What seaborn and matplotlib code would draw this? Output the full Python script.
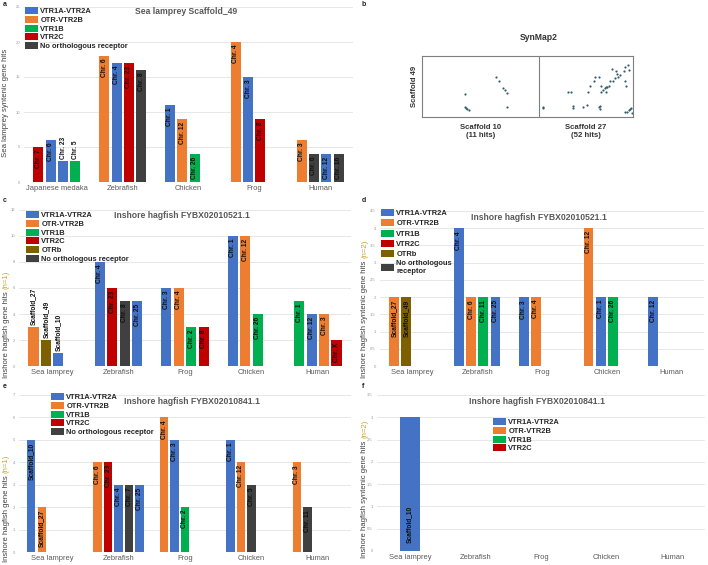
import numpy as np
import pandas as pd
import matplotlib
matplotlib.use('Agg')
import matplotlib.pyplot as plt
import matplotlib.patches as mpatches
import seaborn as sns

# Receptores y colores
A = 'VTR1A-VTR2A'
B = 'OTR-VTR2B'
B1 = 'VTR1B'
C2 = 'VTR2C'
OB = 'OTRb'
N = 'No orthologous receptor'
receptor_colors = {A: '#4472C4', B: '#ED7D31', B1: '#00B050', C2: '#C00000',
                   OB: '#7F6000', N: '#404040'}

# Panel a: Sea lamprey Scaffold_49
a_species = ['Japanese medaka', 'Zebrafish', 'Chicken', 'Frog', 'Human']
a_hits = [[5, 6, 3, 3], [18, 17, 17, 16], [11, 9, 4], [20, 15, 9], [6, 4, 4, 4]]
a_receptor = [[C2, A, A, B1], [B, A, C2, N], [A, B, B1], [B, A, C2], [B, N, A, N]]
a_chrom = [['Chr. 7', 'Chr. 6', 'Chr. 23', 'Chr. 5'],
           ['Chr. 6', 'Chr. 4', 'Chr. 23', 'Chr. 8'],
           ['Chr. 1', 'Chr. 12', 'Chr. 26'],
           ['Chr. 4', 'Chr. 3', 'Chr. 8'],
           ['Chr. 3', 'Chr. 6', 'Chr. 12', 'Chr. 16']]
a_outside = [('Japanese medaka', 2), ('Japanese medaka', 3)]

# Panel c: Inshore hagfish FYBX02010521.1 (n=1)
hag_species = ['Sea lamprey', 'Zebrafish', 'Frog', 'Chicken', 'Human']
c_hits = [[3, 2, 1], [8, 6, 5, 5], [6, 6, 3, 3], [10, 10, 4], [5, 4, 4, 2]]
c_receptor = [[B, OB, A], [A, C2, N, A], [A, B, B1, C2], [A, B, B1], [B1, A, B, C2]]
c_chrom = [['Scaffold_27', 'Scaffold_49', 'Scaffold_10'],
           ['Chr. 4', 'Chr. 23', 'Chr. 8', 'Chr. 25'],
           ['Chr. 3', 'Chr. 4', 'Chr. 2', 'Chr. 8'],
           ['Chr. 1', 'Chr. 12', 'Chr. 26'],
           ['Chr. 1', 'Chr. 12', 'Chr. 3', 'Chr. X']]
c_outside = [('Sea lamprey', 0), ('Sea lamprey', 1), ('Sea lamprey', 2)]

# Panel d: Inshore hagfish FYBX02010521.1 (n=2)
d_hits = [[2, 2], [4, 2, 2, 2], [2, 2], [4, 2, 2], [2]]
d_receptor = [[B, OB], [A, B, B1, A], [A, B], [B, A, B1], [A]]
d_chrom = [['Scaffold_27', 'Scaffold_49'],
           ['Chr. 4', 'Chr. 6', 'Chr. 11', 'Chr. 25'],
           ['Chr. 3', 'Chr. 4'],
           ['Chr. 12', 'Chr. 1', 'Chr. 26'],
           ['Chr. 12']]

# Panel e: Inshore hagfish FYBX02010841.1 (n=1)
e_hits = [[5, 2], [4, 4, 3, 3, 3], [6, 5, 2], [5, 4, 3], [4, 2]]
e_receptor = [[A, B], [B, C2, A, N, A], [B, A, B1], [A, B, N], [B, N]]
e_chrom = [['Scaffold_10', 'Scaffold_27'],
           ['Chr. 6', 'Chr. 23', 'Chr. 4', 'Chr. 7', 'Chr. 25'],
           ['Chr. 4', 'Chr. 3', 'Chr. 2'],
           ['Chr. 1', 'Chr. 12', 'Chr. 5'],
           ['Chr. 3', 'Chr. 11']]

# Panel f: Inshore hagfish FYBX02010841.1 (n=2)
f_hits = [[3], [], [], [], []]
f_receptor = [[A], [], [], [], []]
f_chrom = [['Scaffold_10'], [], [], [], []]
f_base = [('Sea lamprey', 0)]

# Panel b: SynMap2, posiciones (% de la longitud del scaffold)
b_sc10_x = [62.9, 65.4, 69.4, 70.5, 72.2, 36.8, 36.8, 37.7, 38.2, 39.7, 72.8]
b_sc10_y = [65.8, 58.2, 47.3, 44.6, 39.1, 37.0, 15.8, 14.1, 13.0, 12.0, 16.3]
b_sc27_x = [3.5, 4.3, 31.2, 33.7, 35.5, 35.8, 46.8, 51.4, 52.1, 54.6, 58.2, 59.6,
            63.8, 63.8, 64.5, 64.9, 65.6, 66.0, 68.1, 69.9, 70.9, 71.6, 72.3, 74.5,
            75.9, 77.3, 78.7, 80.9, 82.3, 83.3, 84.4, 86.2, 90.8, 91.5, 91.8, 92.6,
            95.0, 95.7, 91.8, 93.6, 95.7, 97.2, 98.2, 99.3]
b_sc27_y = [14.1, 15.8, 40.2, 40.2, 18.5, 15.2, 16.3, 19.6, 40.8, 51.6, 58.7, 65.8,
            65.8, 16.3, 18.5, 13.0, 51.6, 40.2, 44.6, 47.3, 48.4, 40.2, 50.0, 51.1,
            58.7, 78.3, 58.7, 64.1, 75.0, 70.7, 66.3, 69.6, 75.5, 82.6, 59.2, 51.1,
            85.3, 77.2, 7.6, 8.7, 12.0, 13.0, 14.1, 6.5]
b_len10 = 1.25
b_len27 = 1.0

W, H = 708, 565
sns.set_style('white')
plt.rcParams['font.family'] = ['Liberation Sans', 'DejaVu Sans']
fig = plt.figure(figsize=(W / 100, H / 100), dpi=100)


def rect(l, t, r, b):
    return [l / W, 1 - b / H, (r - l) / W, (b - t) / H]


def fx(x):
    return x / W


def fy(y):
    return 1 - y / H


def panel_df(species, hits, receptors, chroms, outside=(), base=()):
    rows = []
    for i, sp in enumerate(species):
        for j, h in enumerate(hits[i]):
            place = 'in'
            if (sp, j) in outside:
                place = 'out'
            if (sp, j) in base:
                place = 'base'
            rows.append({'species': sp, 'slot': f's{j}', 'hits': h, 'idx': i, 'j': j,
                         'receptor': receptors[i][j], 'label': chroms[i][j], 'place': place})
    return pd.DataFrame(rows)


def bar_panel(ax, df, species, nslots, width, gap, ymax, ystep):
    sns.barplot(data=df, x='species', y='hits', hue='slot', order=species,
                hue_order=[f's{j}' for j in range(nslots)], width=width, gap=gap,
                dodge=True, legend=False, errorbar=None, saturation=1, ax=ax)
    slot_w = width / nslots
    expected = df['idx'] - width / 2 + slot_w * (df['j'] + 0.5)
    for p in ax.patches:
        xc = p.get_x() + p.get_width() / 2
        k = int(np.argmin(np.abs(expected.values - xc)))
        row = df.iloc[k]
        p.set_facecolor(receptor_colors[row['receptor']])
        p.set_edgecolor('none')
        h = p.get_height()
        if row['place'] == 'in':
            ax.annotate(row['label'], (xc, h), xytext=(0, -2), textcoords='offset points',
                        rotation=90, ha='center', va='top', fontsize=4.8,
                        fontweight='bold', color='#111111')
        elif row['place'] == 'out':
            ax.annotate(row['label'], (xc, h), xytext=(0, 1.5), textcoords='offset points',
                        rotation=90, ha='center', va='bottom', fontsize=4.8,
                        fontweight='bold', color='#111111')
        else:
            ax.annotate(row['label'], (xc, 0), xytext=(0, 6), textcoords='offset points',
                        rotation=90, ha='center', va='bottom', fontsize=4.8,
                        fontweight='bold', color='#111111')
    ax.set_xlim(-0.5, len(species) - 0.5)
    ax.set_ylim(0, ymax)
    yt = np.arange(0, ymax + ystep / 2, ystep)
    ax.set_yticks(yt)
    ax.set_yticklabels([f'{v:g}' for v in yt])
    ax.set_xticks(range(len(species)))
    ax.set_xticklabels(species)
    ax.set_xlabel('')
    ax.set_ylabel('')
    ax.yaxis.grid(True, color='#e3e3e3', lw=0.6)
    ax.set_axisbelow(True)
    for s in ax.spines.values():
        s.set_visible(False)
    ax.tick_params(axis='x', length=0, pad=2, labelsize=5.4, labelcolor='#595959')
    ax.tick_params(axis='y', length=0, pad=3, labelsize=3, labelcolor='#999999')


def legend_at(ax, names, x, y, spacing=0.1):
    handles = [mpatches.Patch(facecolor=receptor_colors[n if n in receptor_colors else N],
                              edgecolor='none', label=n) for n in names]
    ax.legend(handles=handles, loc='upper left', bbox_to_anchor=(fx(x), fy(y)),
              bbox_transform=fig.transFigure, frameon=False, borderpad=0, borderaxespad=0,
              handlelength=1.75, handleheight=1.05, handletextpad=0.3, labelspacing=spacing,
              prop={'size': 5.4, 'weight': 'bold'})


def ylabel_n(x, y, main, n_txt):
    t = fig.text(fx(x), fy(y), main + ' ', rotation=90, rotation_mode='anchor',
                 ha='left', va='center', fontsize=5.6, color='#404040')
    fig.canvas.draw()
    bb = t.get_window_extent()
    fig.text(fx(x), bb.y1 / H, n_txt, rotation=90, rotation_mode='anchor',
             ha='left', va='center', fontsize=5.6, color='#C9A227')


# Panel a
ax_a = fig.add_axes(rect(24, 7, 353, 182))
df_a = panel_df(a_species, a_hits, a_receptor, a_chrom, outside=a_outside)
bar_panel(ax_a, df_a, a_species, 4, 0.75, 0.19, 25, 5)
legend_at(ax_a, [A, B, B1, C2, N], 25, 7)
fig.text(fx(186), fy(11), 'Sea lamprey Scaffold_49', ha='center', va='center',
         fontsize=6.2, fontweight='bold', color='#595959')
fig.text(fx(6), fy(103), 'Sea lamprey syntenic gene hits', rotation=90, ha='center',
         va='center', fontsize=5.6, color='#404040')

# Panel b
ax_b = fig.add_axes(rect(422, 56, 633, 117))
bx = [v / 100 * b_len10 for v in b_sc10_x] + [b_len10 + v / 100 * b_len27 for v in b_sc27_x]
by = [v / 100 for v in b_sc10_y + b_sc27_y]
sns.scatterplot(x=bx, y=by, ax=ax_b, s=2.5, color='#2f5f6f', linewidth=0)
ax_b.axvline(b_len10, color='#7f7f7f', lw=0.8)
ax_b.set_xlim(0, b_len10 + b_len27)
ax_b.set_ylim(0, 1)
ax_b.set_xticks([])
ax_b.set_yticks([])
for s in ax_b.spines.values():
    s.set_color('#7f7f7f')
    s.set_linewidth(0.8)
ax_b.set_ylabel('Scaffold 49', fontsize=5.6, fontweight='bold', color='#333333', labelpad=3)
ax_b.text(b_len10 / 2, -0.12, 'Scaffold 10\n(11 hits)', ha='center', va='top',
          fontsize=5.6, fontweight='bold', color='#333333')
ax_b.text(b_len10 + b_len27 / 2, -0.12, 'Scaffold 27\n(52 hits)', ha='center', va='top',
          fontsize=5.6, fontweight='bold', color='#333333')
fig.text(fx(539), fy(38), 'SynMap2', ha='center', va='center', fontsize=6.2,
         fontweight='bold', color='#333333')

# Panel c
ax_c = fig.add_axes(rect(19, 210, 351, 366))
df_c = panel_df(hag_species, c_hits, c_receptor, c_chrom, outside=c_outside)
bar_panel(ax_c, df_c, hag_species, 4, 0.75, 0.19, 12, 2)
legend_at(ax_c, [A, B, B1, C2, OB, N], 26, 211)
fig.text(fx(182), fy(216), 'Inshore hagfish FYBX02010521.1', ha='center', va='center',
         fontsize=6.2, fontweight='bold', color='#595959')

# Panel d
ax_d = fig.add_axes(rect(380, 211, 704, 366))
df_d = panel_df(hag_species, d_hits, d_receptor, d_chrom)
bar_panel(ax_d, df_d, hag_species, 4, 0.75, 0.19, 4.5, 0.5)
legend_at(ax_d, [A, B, B1, C2, OB, 'No orthologous\nreceptor'], 381, 209, spacing=0.3)
fig.text(fx(539), fy(217), 'Inshore hagfish FYBX02010521.1', ha='center', va='center',
         fontsize=6.2, fontweight='bold', color='#595959')

# Panel e
ax_e = fig.add_axes(rect(19, 395, 351, 552))
df_e = panel_df(hag_species, e_hits, e_receptor, e_chrom)
bar_panel(ax_e, df_e, hag_species, 5, 0.79, 0.2, 7, 1)
legend_at(ax_e, [A, B, B1, C2, N], 51, 393)
fig.text(fx(192), fy(401), 'Inshore hagfish FYBX02010841.1', ha='center', va='center',
         fontsize=6.2, fontweight='bold', color='#595959')

# Panel f
ax_f = fig.add_axes(rect(377, 395, 705, 551))
df_f = panel_df(hag_species, f_hits, f_receptor, f_chrom, base=f_base)
bar_panel(ax_f, df_f, hag_species, 1, 0.31, 0, 3.5, 0.5)
legend_at(ax_f, [A, B, B1, C2], 493, 418)
fig.text(fx(537), fy(401), 'Inshore hagfish FYBX02010841.1', ha='center', va='center',
         fontsize=6.2, fontweight='bold', color='#595959')

# Etiquetas de eje y con (n=...)
ylabel_n(6, 378, 'Inshore hagfish gene hits', '(n=1)')
ylabel_n(365, 378, 'Inshore hagfish syntenic gene hits', '(n=2)')
ylabel_n(6, 562, 'Inshore hagfish gene hits', '(n=1)')
ylabel_n(365, 558, 'Inshore hagfish syntenic gene hits', '(n=2)')

# Letras de panel
for letter, x, y in [('a', 3, 5), ('b', 362, 5), ('c', 3, 200), ('d', 362, 200),
                     ('e', 3, 386), ('f', 362, 386)]:
    fig.text(fx(x), fy(y), letter, ha='left', va='center', fontsize=5,
             fontweight='bold', color='#222222')

fig.savefig('out.png', dpi=100)
